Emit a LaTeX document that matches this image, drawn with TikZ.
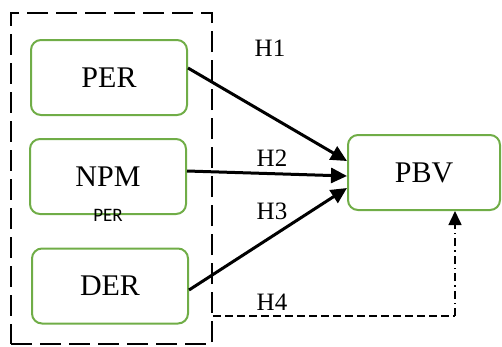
\documentclass[tikz,border=0pt]{standalone}
\usepackage{fontspec}
\setmainfont{Liberation Serif}
\newfontfamily\smallsans{Carlito}
\usetikzlibrary{arrows.meta}
\definecolor{boxgreen}{RGB}{112,173,71}

\tikzset{var/.style={draw=boxgreen,line width=2pt,rounded corners=10pt,minimum width=156pt,minimum height=75pt,font=\fontsize{30}{30}\selectfont},text centered}
\tikzset{group/.style={draw,line width=2.8pt,dash pattern=on 21pt off 8pt,minimum width=201pt,minimum height=331pt}}
\tikzset{hyp/.style={font=\fontsize{25}{25}\selectfont}}
\tikzset{link/.style={line width=3pt,-{Triangle[length=16pt,width=15pt]}}}

\begin{document}
\begin{tikzpicture}[x=1pt,y=-1pt]
  \useasboundingbox (0,0) rectangle (502,346);
  \node [group] (grp) at (111.5,178.5) {};
  \node [var] (per) at (109,77.5) {PER};
  \node [var] (npm) at (108,176.5) {NPM};
  \node [var] (der) at (110,286) {DER};
  \node [var,minimum width=152pt] (pbv) at (424,172.5) {PBV};
  \node [font=\smallsans\fontsize{19}{19}\selectfont] (sub) at (108,215) {PER};
  \node [hyp] (h1) at (270,48) {H1};
  \node [hyp] (h2) at (272,158) {H2};
  \node [hyp] (h3) at (272,211) {H3};
  \node [hyp] (h4) at (272,302) {H4};
  \coordinate (turn) at (455,316);
  % hypotheses
  \draw [link] ([yshift=9.5pt]per.east) -- ([yshift=11.5pt]pbv.west);
  \draw [link] ([yshift=5.5pt]npm.east) -- ([yshift=-3.5pt]pbv.west);
  \draw [link] ([yshift=-4pt]der.east) -- ([yshift=-15.5pt]pbv.west);
  \draw [line width=1.6pt,dash pattern=on 8pt off 4pt] (grp.east |- turn) -- (turn);
  \draw [line width=1.6pt,dash pattern=on 8pt off 4pt on 1.5pt off 4pt,-{Triangle[length=14pt,width=13pt]}] (turn) -- (turn |- pbv.south);
\end{tikzpicture}
\end{document}
